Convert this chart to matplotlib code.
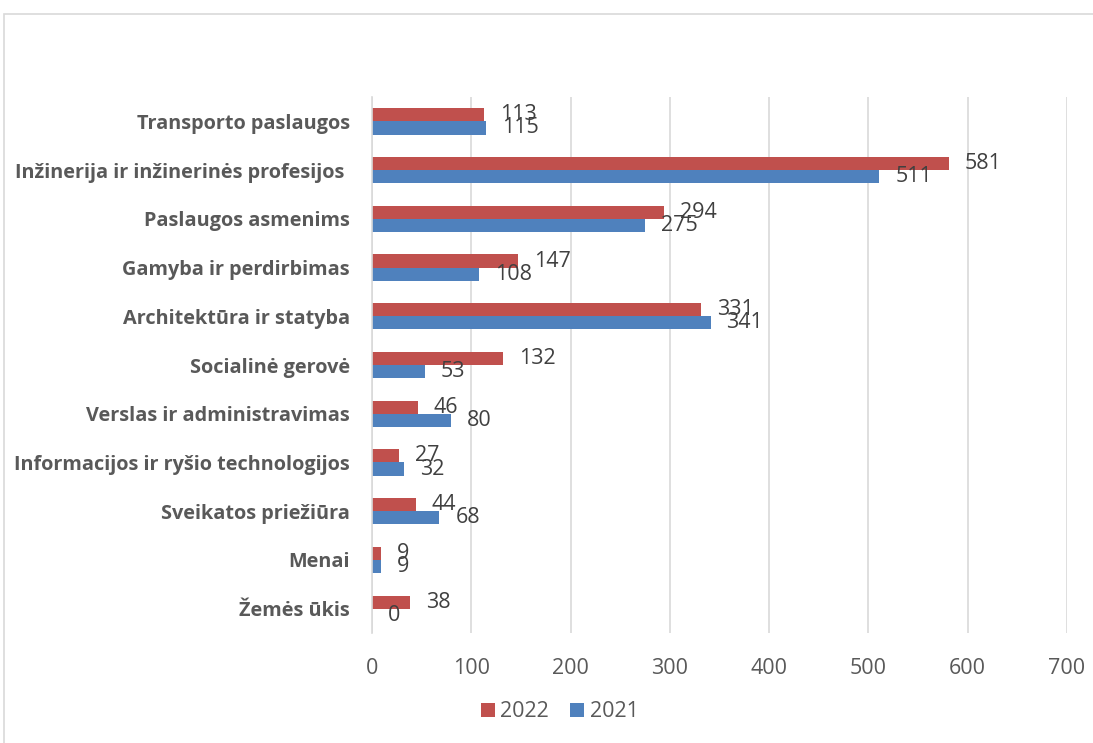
import numpy as np
import matplotlib.pyplot as plt
from matplotlib.patches import Rectangle

categories = ['Transporto paslaugos', 'Inžinerija ir inžinerinės profesijos ',
              'Paslaugos asmenims', 'Gamyba ir perdirbimas', 'Architektūra ir statyba',
              'Socialinė gerovė', 'Verslas ir administravimas',
              'Informacijos ir ryšio technologijos', 'Sveikatos priežiūra', 'Menai',
              'Žemės ūkis']
values_2022 = [113, 581, 294, 147, 331, 132, 46, 27, 44, 9, 38]
values_2021 = [115, 511, 275, 108, 341, 53, 80, 32, 68, 9, 0]
x_ticks = [0, 100, 200, 300, 400, 500, 600, 700]

red = '#C0504D'
blue = '#4F81BD'

plt.rcParams['font.family'] = ['Open Sans', 'DejaVu Sans']

fig = plt.figure(figsize=(10.93, 7.43), dpi=100)
ax = fig.add_axes([0.3403, 0.148, 0.6359, 0.7214])

# outer chart border (cut off on right and bottom)
fig.patches.append(Rectangle((4 / 1093, -0.05), 1.2, 1 - 14 / 743 + 0.05,
                             transform=fig.transFigure, fill=False,
                             edgecolor='#D9D9D9', linewidth=1.2))

y = np.arange(len(categories))
h = 0.27
bars22 = ax.barh(y - h / 2, values_2022, height=h, color=red, label='2022')
bars21 = ax.barh(y + h / 2, values_2021, height=h, color=blue, label='2021')

for bars, vals in [(bars22, values_2022), (bars21, values_2021)]:
    for b, v in zip(bars, vals):
        ax.annotate(str(v), (b.get_width(), b.get_y() + b.get_height() / 2),
                    xytext=(11.5, 0), textcoords='offset points',
                    ha='left', va='center', fontsize=15.5, color='#404040')

ax.set_ylim(len(categories) - 0.5, -0.5)
ax.set_xlim(0, 700)
ax.set_xticks(x_ticks)
ax.set_yticks(y)
ax.set_yticklabels(categories, fontsize=14.3, fontweight='bold', color='#595959')
ax.tick_params(axis='x', labelsize=15.5, labelcolor='#595959', length=0, pad=18)
ax.tick_params(axis='y', length=0, pad=16)
ax.grid(axis='x', color='#D9D9D9', linewidth=1.2)
ax.set_axisbelow(True)
for s in ['top', 'right', 'bottom']:
    ax.spines[s].set_visible(False)
ax.spines['left'].set_color('#D9D9D9')
ax.spines['left'].set_linewidth(1.2)

fig.legend(loc='center', bbox_to_anchor=(0.512, 0.042), ncol=2, frameon=False,
           fontsize=15.5, handlelength=0.65, handleheight=0.65, handletextpad=0.25,
           columnspacing=1.0, labelcolor='#595959')

fig.savefig('out.png', dpi=100)
